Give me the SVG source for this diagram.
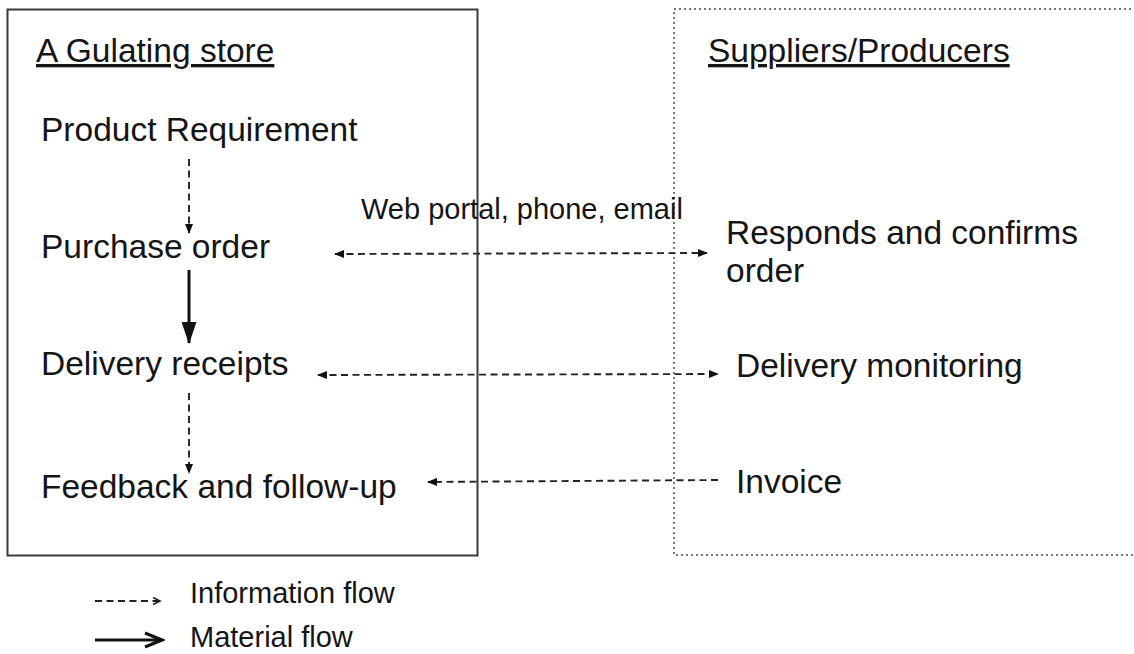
<svg xmlns="http://www.w3.org/2000/svg" width="1134" height="654" viewBox="0 0 1134 654">
<style>
text{font-family:"Liberation Sans",Arial,sans-serif;fill:#151515}
.big{font-size:33.5px}
.mid{font-size:29px}
.hd{text-decoration:underline}
.info{fill:none;stroke:#222;stroke-width:1.9;stroke-dasharray:7 4.5}
.mat{fill:none;stroke:#111;stroke-width:3}
</style>
<defs>
<marker id="ah" markerWidth="10" markerHeight="8" refX="9" refY="4" orient="auto-start-reverse" markerUnits="userSpaceOnUse">
<path d="M0,0 L10,4 L0,8 Z" fill="#111"/>
</marker>
<marker id="ahBig" markerWidth="22" markerHeight="15" refX="23" refY="8" orient="auto" markerUnits="userSpaceOnUse" viewBox="0 0 24 16" preserveAspectRatio="none">
<path d="M0,0 L24,8 L0,16 Z" fill="#111"/>
</marker>
<marker id="chev" markerWidth="10" markerHeight="10" refX="8" refY="5" orient="auto" markerUnits="userSpaceOnUse">
<path d="M1,1.5 L8,5 L1,8.5" fill="none" stroke="#222" stroke-width="1.6"/>
</marker>
<marker id="chevBig" markerWidth="22" markerHeight="18" refX="19" refY="9" orient="auto" markerUnits="userSpaceOnUse">
<path d="M2,2 L19,9 L2,16" fill="none" stroke="#111" stroke-width="3"/>
</marker>
</defs>
<rect width="1134" height="654" fill="#fff"/>

<g id="store">
<rect x="7.5" y="9.5" width="470" height="546" fill="none" stroke="#3a3a3a" stroke-width="2"/>
<text class="big hd" x="36" y="62">A Gulating store</text>
</g>
<g id="suppliers">
<path d="M1136,9 L674,9 L674,555 L1136,555" fill="none" stroke="#777" stroke-width="2" stroke-dasharray="2 3"/>
<text class="big hd" x="708" y="62">Suppliers/Producers</text>
</g>

<g id="product-requirement"><text class="big" x="41" y="141">Product Requirement</text></g>
<g id="purchase-order"><text class="big" x="41" y="258">Purchase order</text></g>
<g id="delivery-receipts"><text class="big" x="41" y="375">Delivery receipts</text></g>
<g id="feedback"><text class="big" x="41" y="498">Feedback and follow-up</text></g>
<g id="responds"><text class="big" x="726" y="244">Responds and confirms</text><text class="big" x="726" y="282">order</text></g>
<g id="delivery-monitoring"><text class="big" x="736" y="377">Delivery monitoring</text></g>
<g id="invoice"><text class="big" x="736" y="493">Invoice</text></g>

<g id="connectors">
<line class="info" x1="189" y1="159" x2="189" y2="233" marker-end="url(#ah)"/>
<line class="mat" x1="189" y1="270" x2="189" y2="343" marker-end="url(#ahBig)"/>
<line class="info" x1="189" y1="393" x2="189" y2="473" marker-end="url(#ah)"/>
<line class="info" x1="335" y1="254" x2="707" y2="253" marker-start="url(#ah)" marker-end="url(#ah)"/>
<line class="info" x1="318" y1="375" x2="718" y2="374" marker-start="url(#ah)" marker-end="url(#ah)"/>
<line class="info" x1="718" y1="480" x2="428" y2="482" marker-end="url(#ah)"/>
<text class="mid" x="361" y="219">Web portal, phone, email</text>
</g>

<g id="legend">
<line class="info" x1="95" y1="601" x2="160" y2="601" stroke-dasharray="5 4" stroke-width="1.6" marker-end="url(#chev)"/>
<text class="mid" x="190" y="603">Information flow</text>
<line class="mat" x1="95" y1="640" x2="162" y2="640" marker-end="url(#chevBig)"/>
<text class="mid" x="190" y="647">Material flow</text>
</g>
</svg>
